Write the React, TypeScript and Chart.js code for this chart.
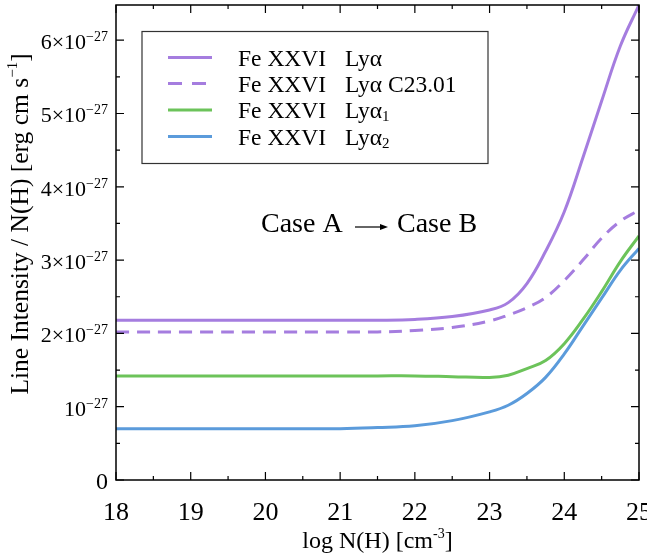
import React, { useEffect, useRef } from "react";
import { Chart, registerables } from "chart.js";

Chart.register(...registerables);

// log N(H) [cm^-3]
const logN = [18, 19, 20, 21, 21.5, 22, 22.5, 23, 23.25, 23.5, 23.75, 24, 24.25, 24.5, 24.75, 25];
// Line intensity / N(H), in units of 1e-27 erg cm s^-1
const lyaTotal = [2.18, 2.18, 2.18, 2.18, 2.18, 2.19, 2.23, 2.32, 2.42, 2.68, 3.12, 3.66, 4.4, 5.17, 5.92, 6.48];
const lyaC2301 = [2.02, 2.02, 2.02, 2.02, 2.02, 2.04, 2.08, 2.17, 2.25, 2.35, 2.49, 2.72, 3.0, 3.3, 3.53, 3.68];
const lya1 = [1.42, 1.42, 1.42, 1.42, 1.42, 1.42, 1.41, 1.4, 1.43, 1.52, 1.63, 1.86, 2.19, 2.57, 2.98, 3.33];
const lya2 = [0.7, 0.7, 0.7, 0.7, 0.715, 0.74, 0.81, 0.93, 1.02, 1.18, 1.4, 1.72, 2.1, 2.48, 2.86, 3.16];

const seriesLabels = ["Lyα", "Lyα C23.01", "Lyα₁", "Lyα₂"];
const ionLabel = "Fe XXVI";
const xTicks = [18, 19, 20, 21, 22, 23, 24, 25];
const yTicks = [0, 1, 2, 3, 4, 5, 6];
const yMantissa = ["0", "", "2×", "3×", "4×", "5×", "6×"];

const FONT = '"Liberation Serif", "DejaVu Serif", serif';
const PURPLE = "#a57ddf";
const GREEN = "#6cc35a";
const BLUE = "#5b9bdb";

const overlay = {
  id: "overlay",
  afterDraw(chart: any) {
    const ctx = chart.ctx as CanvasRenderingContext2D;
    const { left, right, top, bottom } = chart.chartArea;
    const xs = chart.scales.x;
    const ys = chart.scales.y;
    ctx.save();
    ctx.strokeStyle = "#000";
    ctx.fillStyle = "#000";
    // frame
    ctx.lineWidth = 1.5;
    ctx.strokeRect(left, top, right - left, bottom - top);
    // ticks (major + minor), inward, on all four sides
    ctx.lineWidth = 1.2;
    for (let v = 18; v <= 25.001; v += 0.5) {
      const px = xs.getPixelForValue(v);
      const major = Math.abs(v - Math.round(v)) < 1e-6;
      const len = major ? 8 : 4;
      ctx.beginPath();
      ctx.moveTo(px, bottom);
      ctx.lineTo(px, bottom - len);
      ctx.moveTo(px, top);
      ctx.lineTo(px, top + len);
      ctx.stroke();
    }
    for (let v = 0; v <= 6.5; v += 0.5) {
      const py = ys.getPixelForValue(v);
      if (py < top) continue;
      const major = Math.abs(v - Math.round(v)) < 1e-6;
      const len = major ? 8 : 4;
      ctx.beginPath();
      ctx.moveTo(left, py);
      ctx.lineTo(left + len, py);
      ctx.moveTo(right, py);
      ctx.lineTo(right - len, py);
      ctx.stroke();
    }
    // x tick labels
    ctx.font = `26px ${FONT}`;
    ctx.textAlign = "center";
    ctx.textBaseline = "alphabetic";
    xTicks.forEach((v) => {
      ctx.fillText(String(v), xs.getPixelForValue(v), 520);
    });
    // y tick labels
    yTicks.forEach((v, i) => {
      const py = ys.getPixelForValue(v);
      const labelRight = 108;
      if (v === 0) {
        ctx.font = `24px ${FONT}`;
        ctx.textAlign = "right";
        ctx.fillText("0", labelRight, py + 9);
        return;
      }
      ctx.font = `14px ${FONT}`;
      ctx.textAlign = "right";
      const sup = "−27";
      ctx.fillText(sup, labelRight, py + 1);
      const supW = ctx.measureText(sup).width;
      ctx.font = `22px ${FONT}`;
      ctx.fillText(yMantissa[i] + "10", labelRight - supW, py + 9);
    });
    // x title
    {
      const main = "log N(H) [cm";
      const sup = "-3";
      const tail = "]";
      ctx.font = `24px ${FONT}`;
      const wMain = ctx.measureText(main).width;
      const wTail = ctx.measureText(tail).width;
      ctx.font = `14px ${FONT}`;
      const wSup = ctx.measureText(sup).width;
      const total = wMain + wSup + wTail;
      const x0 = (left + right) / 2 - total / 2;
      const base = 548;
      ctx.textAlign = "left";
      ctx.font = `24px ${FONT}`;
      ctx.fillText(main, x0, base);
      ctx.font = `14px ${FONT}`;
      ctx.fillText(sup, x0 + wMain, base - 10);
      ctx.font = `24px ${FONT}`;
      ctx.fillText(tail, x0 + wMain + wSup, base);
    }
    // y title (rotated)
    {
      const main = "Line Intensity / N(H) [erg cm s";
      const sup = "−1";
      const tail = "]";
      ctx.save();
      ctx.translate(28, 224);
      ctx.rotate(-Math.PI / 2);
      ctx.font = `25.5px ${FONT}`;
      const wMain = ctx.measureText(main).width;
      const wTail = ctx.measureText(tail).width;
      ctx.font = `15px ${FONT}`;
      const wSup = ctx.measureText(sup).width;
      const total = wMain + wSup + wTail;
      const x0 = -total / 2;
      ctx.textAlign = "left";
      ctx.font = `25.5px ${FONT}`;
      ctx.fillText(main, x0, 0);
      ctx.font = `15px ${FONT}`;
      ctx.fillText(sup, x0 + wMain, -11);
      ctx.font = `25.5px ${FONT}`;
      ctx.fillText(tail, x0 + wMain + wSup, 0);
      ctx.restore();
    }
    // annotation: Case A -> Case B
    {
      ctx.font = `28px ${FONT}`;
      ctx.textAlign = "left";
      const base = 232;
      ctx.fillText("Case A", 261, base);
      ctx.fillText("Case B", 397, base);
      ctx.lineWidth = 1.2;
      ctx.beginPath();
      ctx.moveTo(355, 227);
      ctx.lineTo(385, 227);
      ctx.stroke();
      ctx.beginPath();
      ctx.moveTo(388, 227);
      ctx.lineTo(380, 224);
      ctx.lineTo(380, 230);
      ctx.closePath();
      ctx.fill();
    }
    // legend
    {
      ctx.lineWidth = 1.2;
      ctx.strokeStyle = "#333";
      ctx.strokeRect(142, 31.5, 346, 132);
      const rows = [57.5, 83.5, 110, 136.5];
      chart.data.datasets.forEach((ds: any, i: number) => {
        const y = rows[i];
        ctx.strokeStyle = ds.borderColor;
        ctx.lineWidth = 3;
        ctx.setLineDash(ds.borderDash ? [14, 10] : []);
        ctx.beginPath();
        ctx.moveTo(168, y);
        ctx.lineTo(212, y);
        ctx.stroke();
        ctx.setLineDash([]);
        ctx.fillStyle = "#000";
        ctx.font = `23.5px ${FONT}`;
        ctx.textAlign = "left";
        ctx.fillText(ionLabel, 238, y + 8);
        const lab: string = ds.label;
        const m = lab.match(/^(.*?)([₁₂])$/);
        if (m) {
          ctx.fillText(m[1], 345, y + 8);
          const w = ctx.measureText(m[1]).width;
          ctx.font = `15px ${FONT}`;
          ctx.fillText(m[2] === "₁" ? "1" : "2", 345 + w, y + 11);
        } else {
          ctx.fillText(lab, 345, y + 8);
        }
      });
    }
    ctx.restore();
  },
};

export default function App() {
  const ref = useRef<HTMLCanvasElement | null>(null);
  useEffect(() => {
    document.body.style.margin = "0";
    const toPts = (arr: number[]) => arr.map((y, i) => ({ x: logN[i], y }));
    const chart = new Chart(ref.current as HTMLCanvasElement, {
      type: "line",
      data: {
        datasets: [
          { label: seriesLabels[0], data: toPts(lyaTotal), borderColor: PURPLE, borderWidth: 3 },
          { label: seriesLabels[1], data: toPts(lyaC2301), borderColor: PURPLE, borderWidth: 3, borderDash: [13, 8] },
          { label: seriesLabels[2], data: toPts(lya1), borderColor: GREEN, borderWidth: 3 },
          { label: seriesLabels[3], data: toPts(lya2), borderColor: BLUE, borderWidth: 3 },
        ],
      },
      options: {
        animation: false,
        responsive: false,
        events: [],
        layout: { padding: { left: 116, right: 8, top: 5, bottom: 77 } },
        elements: {
          point: { radius: 0 },
          line: { tension: 0.4, fill: false, capBezierPoints: true },
        },
        plugins: { legend: { display: false }, tooltip: { enabled: false } },
        scales: {
          x: { type: "linear", min: 18, max: 25, display: false },
          y: { type: "linear", min: 0, max: 6.48, display: false },
        },
      },
      plugins: [overlay],
    } as any);
    return () => chart.destroy();
  }, []);
  return <canvas ref={ref} width={647} height={557} style={{ display: "block" }} />;
}
